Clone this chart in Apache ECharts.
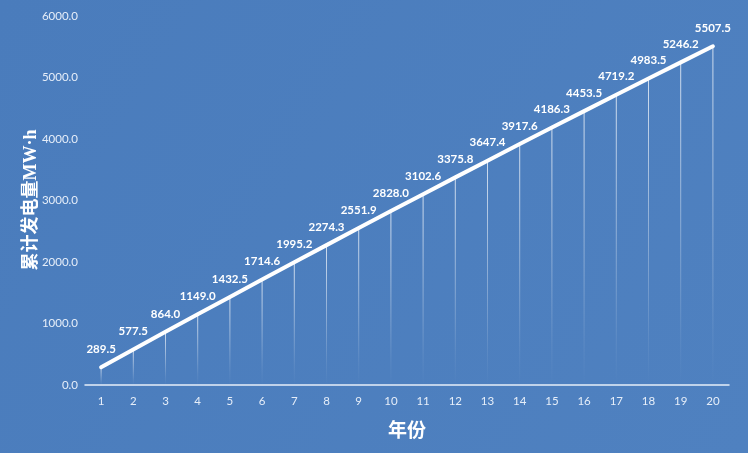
<!DOCTYPE html>
<html><head><meta charset="utf-8">
<script src="https://cdn.jsdelivr.net/npm/echarts@6/dist/echarts.min.js"></script>
<style>html,body{margin:0;padding:0;background:#4a7dbd}#c{width:748px;height:453px}</style>
</head><body><div id="c"></div>
<script>
const years = ['1','2','3','4','5','6','7','8','9','10','11','12','13','14','15','16','17','18','19','20'];
const energy = [289.5,577.5,864.0,1149.0,1432.5,1714.6,1995.2,2274.3,2551.9,2828.0,3102.6,3375.8,3647.4,3917.6,4186.3,4453.5,4719.2,4983.5,5246.2,5507.5];
const yTitle = '累计发电量MW·h';
const xTitle = '年份';

const titleFont = '"Liberation Serif", "Noto Sans CJK SC"';
const chart = echarts.init(document.getElementById('c'));
chart.setOption({
  backgroundColor: new echarts.graphic.LinearGradient(0,0,1,1,[{offset:0,color:'#4a7cbc'},{offset:1,color:'#4f81c0'}]),
  animation: false,
  grid: {left: 85, right: 19, top: 16, bottom: 68},
  graphic: [{
    type: 'text', x: 31, y: 200, rotation: Math.PI / 2,
    style: {text: yTitle, fill: '#ffffff', font: 'bold 18px ' + titleFont, align: 'center', verticalAlign: 'middle'}
  }],
  xAxis: {
    type: 'category', data: years, boundaryGap: true,
    name: xTitle, nameLocation: 'middle', nameGap: 38,
    nameTextStyle: {color:'#ffffff', fontSize: 19, fontWeight:'bold', fontFamily: titleFont},
    axisLine: {lineStyle: {color:'#e6eef9', width: 1.5}},
    axisTick: {show:false},
    axisLabel: {color:'#e6eef9', fontSize: 11.5, margin: 10, fontFamily:'Lato'}
  },
  yAxis: {
    type: 'value', min: 0, max: 6000, interval: 1000,
    axisLine: {show:false}, axisTick:{show:false}, splitLine:{show:false},
    axisLabel: {color:'#e6eef9', fontSize: 11.5, margin: 7, fontFamily:'Lato', formatter: v => v.toFixed(1)}
  },
  series: [
    {
      type: 'bar', data: energy, barWidth: 1, barGap: '-100%', silent: true,
      itemStyle: {color: new echarts.graphic.LinearGradient(0,0,0,1,[{offset:0,color:'rgba(255,255,255,0.75)'},{offset:0.85,color:'rgba(255,255,255,0.08)'},{offset:1,color:'rgba(255,255,255,0)'}])},
      label: {show: true, position: 'top', distance: 12, color:'#ffffff', fontSize: 11.5, fontWeight:'bold', fontFamily:'Lato',
        formatter: p => p.value.toFixed(1)},
      labelLayout: {hideOverlap: false}
    },
    {
      type: 'line', data: energy, showSymbol: false, symbol: 'none',
      lineStyle: {color:'#ffffff', width: 4, cap: 'round'}
    }
  ]
});
</script></body></html>
